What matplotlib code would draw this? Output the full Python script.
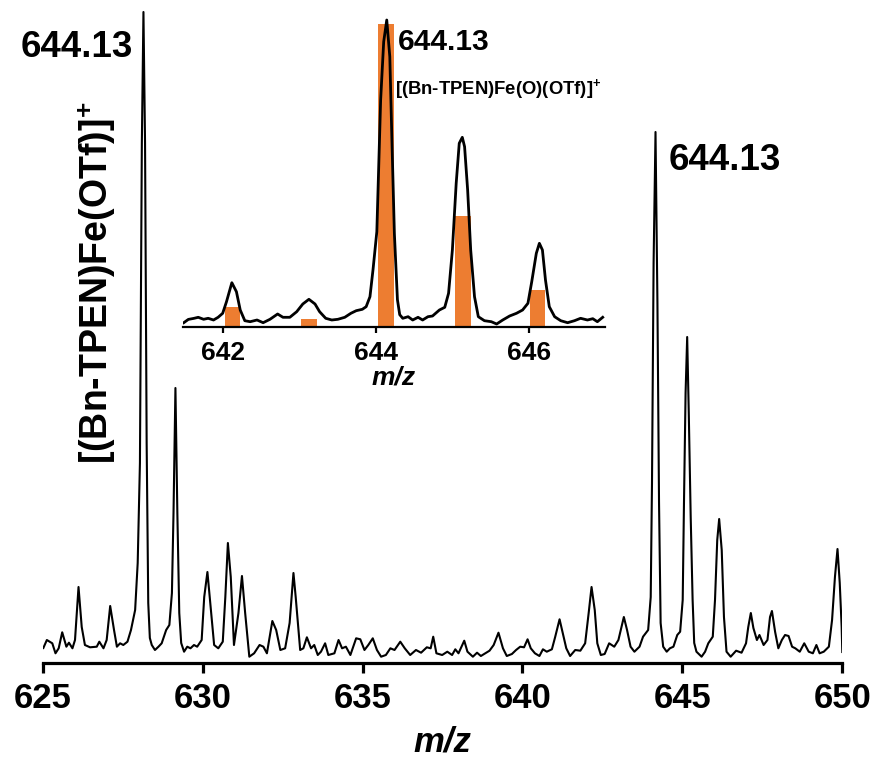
"""
Mass spectrum of the Fe(OTf) complex with a zoomed inset of the
[(Bn-TPEN)Fe(O)(OTf)]+ isotope pattern (measured trace vs. simulated bars).
"""

import numpy as np
import matplotlib.pyplot as plt

# ----------------------------------------------------------------------
# 1. Data
# ----------------------------------------------------------------------
# main trace: m/z and relative intensity (arbitrary units)
main_mz = [
    625.02, 625.13, 625.30, 625.40, 625.50, 625.61, 625.74, 625.82, 625.93, 626.01,
    626.12, 626.22, 626.32, 626.48, 626.69, 626.77, 626.90, 627.00, 627.11, 627.23,
    627.32, 627.42, 627.52, 627.65, 627.76, 627.89, 627.97, 628.04, 628.10, 628.15,
    628.20, 628.25, 628.30, 628.35, 628.41, 628.51, 628.62, 628.72, 628.86, 628.96,
    629.04, 629.09, 629.15, 629.21, 629.27, 629.33, 629.42, 629.52, 629.62, 629.73,
    629.83, 629.97, 630.05, 630.15, 630.25, 630.36, 630.49, 630.63, 630.71, 630.79,
    630.88, 630.98, 631.12, 631.23, 631.33, 631.46, 631.61, 631.78, 631.90, 632.01,
    632.18, 632.30, 632.43, 632.58, 632.72, 632.84, 632.91, 633.05, 633.15, 633.26,
    633.39, 633.49, 633.60, 633.70, 633.83, 633.93, 634.12, 634.25, 634.36, 634.48,
    634.62, 634.80, 634.93, 635.06, 635.18, 635.32, 635.45, 635.58, 635.73, 635.87,
    636.00, 636.18, 636.32, 636.49, 636.67, 636.83, 637.01, 637.13, 637.21, 637.31,
    637.49, 637.65, 637.80, 637.90, 638.00, 638.18, 638.28, 638.45, 638.58, 638.70,
    638.84, 638.97, 639.10, 639.25, 639.39, 639.51, 639.67, 639.80, 639.93, 640.05,
    640.16, 640.26, 640.39, 640.53, 640.64, 640.76, 640.92, 641.02, 641.16, 641.26,
    641.37, 641.49, 641.65, 641.81, 641.96, 642.07, 642.16, 642.26, 642.34, 642.45,
    642.57, 642.71, 642.87, 643.00, 643.17, 643.27, 643.38, 643.50, 643.66, 643.77,
    643.93, 644.01, 644.05, 644.10, 644.16, 644.22, 644.27, 644.32, 644.40, 644.51,
    644.61, 644.72, 644.84, 644.93, 645.01, 645.05, 645.10, 645.15, 645.20, 645.26,
    645.32, 645.37, 645.44, 645.60, 645.71, 645.81, 645.95, 646.02, 646.09, 646.15,
    646.23, 646.30, 646.38, 646.51, 646.68, 646.85, 646.99, 647.06, 647.14, 647.22,
    647.33, 647.41, 647.54, 647.66, 647.74, 647.80, 647.90, 648.00, 648.11, 648.21,
    648.32, 648.43, 648.53, 648.67, 648.81, 648.95, 649.08, 649.19, 649.29, 649.42,
    649.58, 649.68, 649.77, 649.85, 649.92, 649.98, 650.00,
]
main_int = [
    15, 23, 19.7, 9.7, 14.7, 30.7, 16.3, 20.3, 14.7, 23,
    76, 36, 18, 15.7, 16.3, 21.3, 14.7, 23, 57, 33,
    16.3, 19.7, 18, 21.3, 33, 53, 100, 200, 520, 651,
    520, 220, 60, 25, 18, 13, 16.3, 19.7, 33, 38,
    70, 150, 275, 150, 50, 20, 11.3, 16.3, 14.7, 18,
    16.3, 23, 66, 91, 56, 18, 14.7, 21.3, 66, 120,
    86, 18, 50, 87, 50, 6.3, 9.7, 18, 16.3, 9.7,
    42, 33, 13, 14.7, 40, 90, 66, 13, 14.7, 25.7,
    14.7, 18, 8, 11.3, 19.7, 8, 9.7, 23, 14.7, 16.3,
    8, 24.7, 23.7, 13, 18, 24.7, 13, 6.3, 8, 14.7,
    13, 21.3, 14.7, 8, 13, 10.3, 15.7, 14.7, 26.3, 9.7,
    8, 11.3, 8, 13.7, 9.7, 22.3, 11.3, 6.3, 10.3, 7,
    9.7, 12.3, 18, 30.3, 14.7, 7, 9, 13, 16.3, 15.7,
    23.7, 14.7, 9.7, 7, 13.7, 11.3, 13.7, 25.7, 43.7, 29.7,
    14.7, 7, 13, 12.3, 19.7, 50, 76, 53, 19.7, 8,
    9, 19.7, 16.3, 23, 46, 33, 16.3, 11.3, 16.3, 26.3,
    33, 66, 180, 400, 531, 360, 160, 40, 16.3, 11.3,
    14.7, 16.3, 28, 31.3, 63, 160, 270, 326, 250, 146,
    63, 20, 11.3, 6.3, 11.3, 19.7, 26.3, 63, 123, 144,
    113, 46, 11.3, 6.3, 12.3, 10.3, 19.7, 36, 50, 35,
    23, 28, 18, 23, 46, 52, 31, 14.7, 23, 28,
    27, 16.3, 14.7, 11.3, 19.7, 11.3, 9.7, 18, 9.7, 11.3,
    16.3, 43, 86, 114, 80, 36, 11,
]

# inset trace (zoom on 642-647)
inset_mz = [
    641.48, 641.54, 641.61, 641.67, 641.74, 641.80, 641.87, 641.93, 641.99, 642.04,
    642.11, 642.17, 642.22, 642.28, 642.35, 642.44, 642.52, 642.61, 642.71, 642.78,
    642.87, 642.96, 643.04, 643.12, 643.20, 643.26, 643.34, 643.42, 643.50, 643.59,
    643.67, 643.74, 643.82, 643.87, 643.92, 643.96, 644.01, 644.06, 644.10, 644.14,
    644.18, 644.21, 644.24, 644.28, 644.31, 644.35, 644.42, 644.48, 644.55, 644.61,
    644.68, 644.74, 644.83, 644.90, 644.95, 645.00, 645.05, 645.09, 645.13, 645.16,
    645.20, 645.24, 645.29, 645.34, 645.42, 645.51, 645.58, 645.66, 645.75, 645.84,
    645.92, 645.99, 646.04, 646.10, 646.14, 646.18, 646.22, 646.27, 646.34, 646.42,
    646.51, 646.60, 646.68, 646.77, 646.84, 646.90, 646.97,
]
inset_int = [
    4, 7.3, 8.3, 9.4, 7.4, 8.4, 6.7, 9.4, 13.4, 25,
    44, 35, 16.7, 6, 5, 6.7, 4, 7.4, 12.7, 9.4,
    9.4, 15, 22.7, 27.4, 22.7, 15, 8.4, 6.7, 7.4, 9.4,
    13.4, 16, 17.4, 20, 30, 57, 95, 227, 285, 306.7,
    270, 180, 93, 27, 12, 8.4, 10, 6.7, 9.4, 6.7,
    10, 10.7, 16.7, 19.4, 33.4, 76.7, 143.4, 183.4, 189.4, 180,
    136.7, 76.7, 30, 10, 6, 5, 2.7, 6.7, 10.7, 13.4,
    16.7, 23.4, 45, 73.4, 83.4, 76.7, 46.7, 20, 10, 6,
    4, 6, 8.4, 6.7, 8, 5, 9.4,
]

# simulated isotope pattern (orange bars)
sim_mz = [642.12, 643.12, 644.13, 645.14, 646.12]
sim_int = [19.3, 7.3, 302.7, 110.7, 36.7]

main_ticks = [625, 630, 635, 640, 645, 650]
inset_ticks = [642, 644, 646]

# ----------------------------------------------------------------------
# 2. Figure
# ----------------------------------------------------------------------
plt.rcParams['font.family'] = 'Liberation Sans'
plt.rcParams['mathtext.fontset'] = 'custom'
plt.rcParams['mathtext.rm'] = 'Liberation Sans'
plt.rcParams['mathtext.bf'] = 'Liberation Sans:bold'

W, H = 878, 757
fig = plt.figure(figsize=(W / 100, H / 100), dpi=100)


def fx(px):
    return px / W


def fy(py):
    return 1 - py / H


# main spectrum
ax = fig.add_axes([fx(42.7), fy(663), fx(842.3) - fx(42.7), (663 - 10) / H])
ax.plot(main_mz, main_int, color='black', lw=1.5, solid_joinstyle='round')
ax.set_xlim(625, 650)
ax.set_ylim(0, 653)
for s in ['left', 'right', 'top']:
    ax.spines[s].set_visible(False)
ax.spines['bottom'].set_linewidth(2.3)
ax.set_yticks([])
ax.set_xticks(main_ticks)
ax.tick_params(axis='x', direction='out', length=7, width=2.3, pad=7,
               labelsize=25)
for lbl in ax.get_xticklabels():
    lbl.set_fontweight('bold')
ax.set_xlabel('m/z', fontsize=25, fontweight='bold', style='italic',
              labelpad=7)
ax.patch.set_alpha(0)

# inset
axin = fig.add_axes([fx(183), fy(326.7), fx(605) - fx(183), 310 / H])
axin.bar(sim_mz, sim_int, width=0.2, color='#ED7D31', zorder=1)
axin.plot(inset_mz, inset_int, color='black', lw=2.0, zorder=2,
          solid_joinstyle='round')
axin.set_xlim(641.47, 647.0)
axin.set_ylim(0, 310)
for s in ['left', 'right', 'top']:
    axin.spines[s].set_visible(False)
axin.spines['bottom'].set_linewidth(1.6)
axin.set_yticks([])
axin.set_xticks(inset_ticks)
axin.tick_params(axis='x', direction='out', length=4, width=1.6, pad=6,
                 labelsize=19)
for lbl in axin.get_xticklabels():
    lbl.set_fontweight('bold')
axin.set_xlabel('m/z', fontsize=19, fontweight='bold', style='italic',
                labelpad=1)
axin.patch.set_alpha(0)

# annotations
fig.text(fx(21), fy(57), '644.13', fontsize=26.5, fontweight='bold',
         ha='left', va='baseline')
fig.text(fx(669), fy(170), '644.13', fontsize=26.5, fontweight='bold',
         ha='left', va='baseline')
fig.text(fx(398), fy(50), '644.13', fontsize=21.5, fontweight='bold',
         ha='left', va='baseline')
fig.text(fx(395), fy(94), r'[(Bn-TPEN)Fe(O)(OTf)]$^{\mathbf{+}}$',
         fontsize=13.3, fontweight='bold', ha='left', va='baseline')
fig.text(fx(108.5), fy(283), r'[(Bn-TPEN)Fe(OTf)]$^{\mathbf{+}}$',
         fontsize=27, fontweight='bold', rotation=90,
         rotation_mode='anchor', ha='center', va='baseline')

fig.savefig('out.png', dpi=100)
